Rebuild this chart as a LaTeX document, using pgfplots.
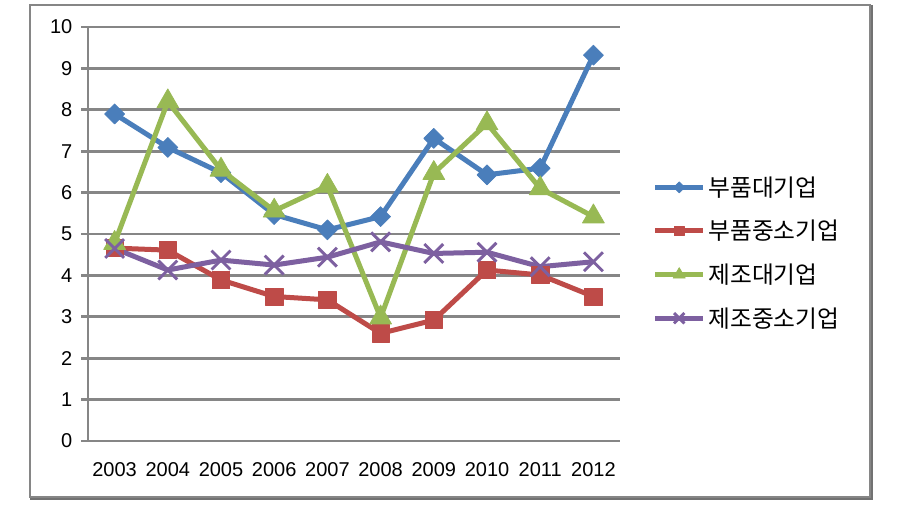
\documentclass[border=0pt]{standalone}
\usepackage{pgfplots}
\pgfplotsset{compat=1.18}
\usepackage{fontspec}
\setmainfont{Liberation Sans}
\newfontfamily\cjk{Noto Sans CJK KR}
\definecolor{cblue}{HTML}{4A7EBB}
\definecolor{cred}{HTML}{BE4B48}
\definecolor{cgreen}{HTML}{98B954}
\definecolor{cpurple}{HTML}{7D60A0}
\definecolor{cgray}{HTML}{868686}
\begin{document}
\begin{tikzpicture}
\useasboundingbox (0,0) rectangle (679.5pt,-385.5pt);
\draw[line width=2.6pt, color=cgray!85!black] (23.5pt,-4.75pt) rectangle (653.5pt,-373.75pt);
\draw[line width=2pt, color=cgray, fill=white] (22.5pt,-3.75pt) rectangle (652.5pt,-372.75pt);
\begin{axis}[
  at={(66pt,-330.75pt)}, anchor=south west,
  scale only axis, width=399pt, height=310.5pt,
  xmin=-0.5, xmax=9.5, ymin=0, ymax=10,
  axis lines*=left, axis line style={cgray, line width=2.2pt, -},
  xtick={0,...,9},
  xticklabels={2003,2004,2005,2006,2007,2008,2009,2010,2011,2012},
  minor xtick={-0.5,0.5,...,9.5},
  ytick={0,1,...,10},
  tick align=outside,
  major tick length=5.25pt, minor tick length=4.5pt,
  xtick style={draw=none},
  minor tick style={cgray, line width=2.2pt},
  ytick style={cgray, line width=2.2pt},
  ymajorgrids, grid style={cgray, line width=2.2pt},
  /pgf/number format/assume math mode=true,
  ticklabel style={font=\fontsize{15}{15}\selectfont},
  xticklabel style={yshift=-7.5pt},
  yticklabel style={xshift=-3pt},
  clip=false,
  legend style={at={(1.061,0.646)}, anchor=north west, draw=none, fill=none,
    font=\cjk\fontsize{17.8}{17.8}\selectfont, row sep=12.5pt, inner sep=0pt,
    /tikz/every even column/.append style={column sep=1pt}},
  legend cell align=left,
  legend image code/.code={\draw[#1, every mark/.append style={scale=0.55}, mark repeat=2, mark phase=2] plot coordinates {(0pt,0pt)(18pt,0pt)(36pt,0pt)};},
  every axis plot/.append style={line width=3.75pt, line join=round},
]
\addplot[cblue, mark=square*, mark size=5.3pt, mark options={rotate=45, solid, line width=0.5pt}]
  coordinates {(0,7.9)(1,7.09)(2,6.48)(3,5.47)(4,5.1)(5,5.42)(6,7.31)(7,6.43)(8,6.59)(9,9.32)};
\addlegendentry{부품대기업}
\addplot[cred, mark=square*, mark size=6.5pt, mark options={solid, line width=0.5pt}]
  coordinates {(0,4.66)(1,4.61)(2,3.89)(3,3.49)(4,3.41)(5,2.6)(6,2.92)(7,4.13)(8,4.01)(9,3.49)};
\addlegendentry{부품중소기업}
\addplot[cgreen, mark=triangle*, mark size=9.5pt, mark options={solid, line width=0.5pt}]
  coordinates {(0,4.78)(1,8.2)(2,6.55)(3,5.56)(4,6.16)(5,2.98)(6,6.47)(7,7.67)(8,6.1)(9,5.42)};
\addlegendentry{제조대기업}
\addplot[cpurple, mark=x, mark size=10pt, mark options={solid, line width=2.2pt}]
  coordinates {(0,4.65)(1,4.13)(2,4.37)(3,4.25)(4,4.44)(5,4.81)(6,4.53)(7,4.56)(8,4.21)(9,4.33)};
\addlegendentry{제조중소기업}
\end{axis}
\end{tikzpicture}
\end{document}
